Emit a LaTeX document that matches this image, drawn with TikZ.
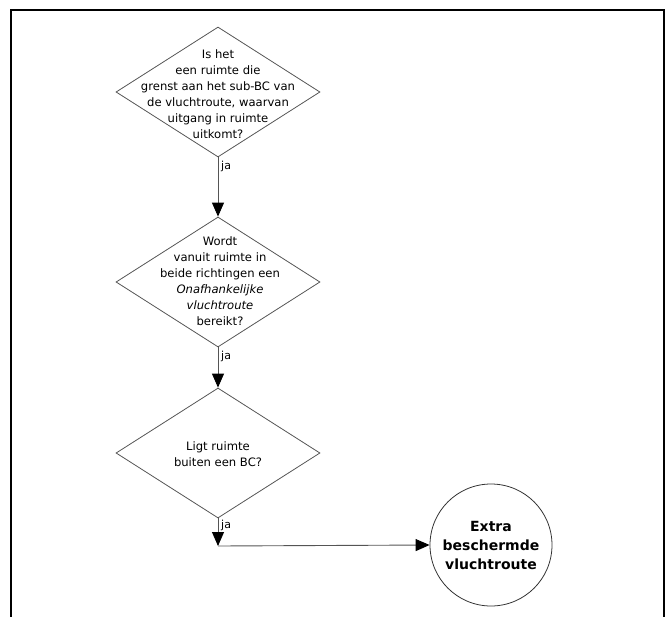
\documentclass[tikz,border=0pt]{standalone}
\usepackage{fontspec}
\setmainfont{DejaVu Sans}
\usetikzlibrary{shapes.geometric, arrows.meta, calc}
\definecolor{cLine}{HTML}{555555}

\begin{document}
\begin{tikzpicture}[
  x=1pt, y=-1pt,
  font=\fontsize{11.6}{16}\selectfont,
  >={Triangle[length=14pt, width=12pt, color=black]},
  question/.style={diamond, draw=cLine, line width=0.8pt, inner sep=0pt,
                   minimum width=204pt, minimum height=130pt},
  qtext/.style={align=center, inner sep=0pt},
  flow/.style={->, draw=cLine, line width=0.9pt},
  answer/.style={font=\fontsize{11}{12}\selectfont, anchor=north west, inner sep=1pt},
  result/.style={circle, draw=black!80, line width=0.8pt, minimum size=122pt,
                 align=center, inner sep=0pt,
                 font=\fontsize{14}{19}\selectfont\bfseries},
]
\useasboundingbox (0,0) rectangle (666,616);

% frame
\draw[line width=1.3pt] (11,640) -- (11,10) -- (664,10) -- (664,640);

% ====================== questions ======================
\node[question] (q1) at (218,92) {};
\node[qtext] (t1) at (218,94)
  {Is het\\ een ruimte die\\ grenst aan het sub-BC van\\ de vluchtroute, waarvan\\
   uitgang in ruimte\\ uitkomt?};

\node[question] (q2) at (218,282) {};
\node[qtext] (t2) at (220,281)
  {Wordt\\ vanuit ruimte in\\ beide richtingen een\\ \textit{Onafhankelijke}\\
   \textit{vluchtroute}\\ bereikt?};

\node[question] (q3) at (218,453) {};
\node[qtext] (t3) at (218,454) {Ligt ruimte\\ buiten een BC?};

% ====================== result ======================
\node[result] (res) at (491,545) {Extra\\ beschermde\\ vluchtroute};
\coordinate (turn) at (218,546);

% ====================== connectors ======================
\draw[flow] (q1.south) -- (q2.north);
\draw[flow] (q2.south) -- (q3.north);
\draw[flow] (q3.south) -- (turn);
\draw[flow] (turn) -- (res.west);

\node[answer] (a1) at ($(q1.south)+(2,3)$) {ja};
\node[answer] (a2) at ($(q2.south)+(2,3)$) {ja};
\node[answer] (a3) at ($(q3.south)+(2,1)$) {ja};

\end{tikzpicture}
\end{document}
